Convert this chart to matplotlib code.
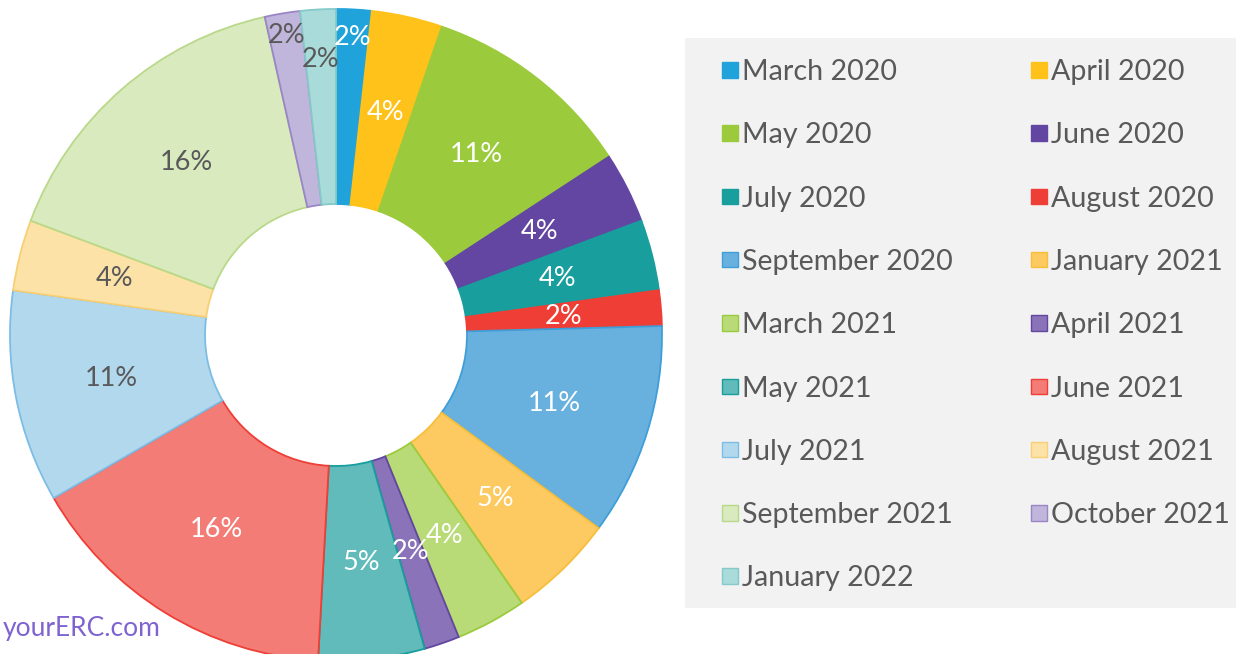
import matplotlib
matplotlib.use("Agg")
import matplotlib.pyplot as plt
from matplotlib.patches import Rectangle
import numpy as np

# ---- data ----
months = ["March 2020", "April 2020", "May 2020", "June 2020", "July 2020",
          "August 2020", "September 2020", "January 2021", "March 2021",
          "April 2021", "May 2021", "June 2021", "July 2021", "August 2021",
          "September 2021", "October 2021", "January 2022"]
counts = [1, 2, 6, 2, 2, 1, 6, 3, 2, 1, 3, 9, 6, 2, 9, 1, 1]

face_colors = ["#20A2DA", "#FFC21A", "#9BCB3C", "#6246A1", "#179E9D", "#EE3E35",
               "#68B1DE", "#FCCA60", "#B8DB78", "#8A73B8", "#60BBBA", "#F37D76",
               "#B2D8EE", "#FDE2A8", "#D9EABF", "#C0B5DB", "#A9DBDB"]
edge_colors = ["#20A2DA", "#FFC21A", "#9BCB3C", "#6246A1", "#179E9D", "#EE3E35",
               "#3F9ED9", "#F7BE3A", "#9BCB3C", "#6246A1", "#179E9D", "#EE3E35",
               "#7DBDE5", "#F8CF74", "#B9D98A", "#9A86C6", "#86C9C9"]
label_colors = ["white"] * 12 + ["#595959"] * 5

FONT = ["Lato", "DejaVu Sans"]
GRAY = "#595959"

W, H = 1236, 654
fig = plt.figure(figsize=(W / 100, H / 100), dpi=100)
ax = fig.add_axes([0, 0, 1, 1])

cx, cy, R, r_in = 336, H - 335, 326, 131
wedges, _ = ax.pie(counts, colors=face_colors, startangle=90, counterclock=False,
                   center=(cx, cy), radius=R, frame=True,
                   wedgeprops=dict(width=R - r_in, linewidth=1.3))
for w, ec in zip(wedges, edge_colors):
    w.set_edgecolor(ec)

total = sum(counts)
# radial position of each percent label (fraction of outer radius)
label_r = {0: 0.915, 15: 0.93, 16: 0.845}
for i, w in enumerate(wedges):
    ang = np.deg2rad((w.theta1 + w.theta2) / 2)
    rr = label_r.get(i, (R + r_in) / 2 / R) * R
    x = cx + rr * np.cos(ang)
    y = cy + rr * np.sin(ang)
    pct = 100 * counts[i] / total
    ax.text(x, y, f"{pct:.0f}%", ha="center", va="center", fontsize=19.5,
            color=label_colors[i], family=FONT)

# legend panel
ax.add_patch(Rectangle((685, H - 608), W - 685, 570, facecolor="#F2F2F2",
                       edgecolor="none", zorder=0))
row_y0, row_dy = 69.8, 63.3
col_x = [722, 1031]
sq = 15.5
for i, (lab, fc, ec) in enumerate(zip(months, face_colors, edge_colors)):
    row, col = divmod(i, 2)
    yc = H - (row_y0 + row * row_dy)
    x0 = col_x[col]
    ax.add_patch(Rectangle((x0, yc - sq / 2), sq, sq, facecolor=fc,
                           edgecolor=ec, linewidth=1.0, zorder=2))
    ax.text(x0 + sq + 4.5, yc - 10.3, lab, ha="left", va="baseline",
            fontsize=20.6, color=GRAY, family=FONT, zorder=3)

ax.text(3, H - 636, "yourERC.com", ha="left", va="baseline", fontsize=19,
        color="#7F63D1", family=FONT)

ax.set_xlim(0, W)
ax.set_ylim(0, H)
ax.set_aspect("equal")
ax.axis("off")
fig.savefig("out.png", dpi=100)
